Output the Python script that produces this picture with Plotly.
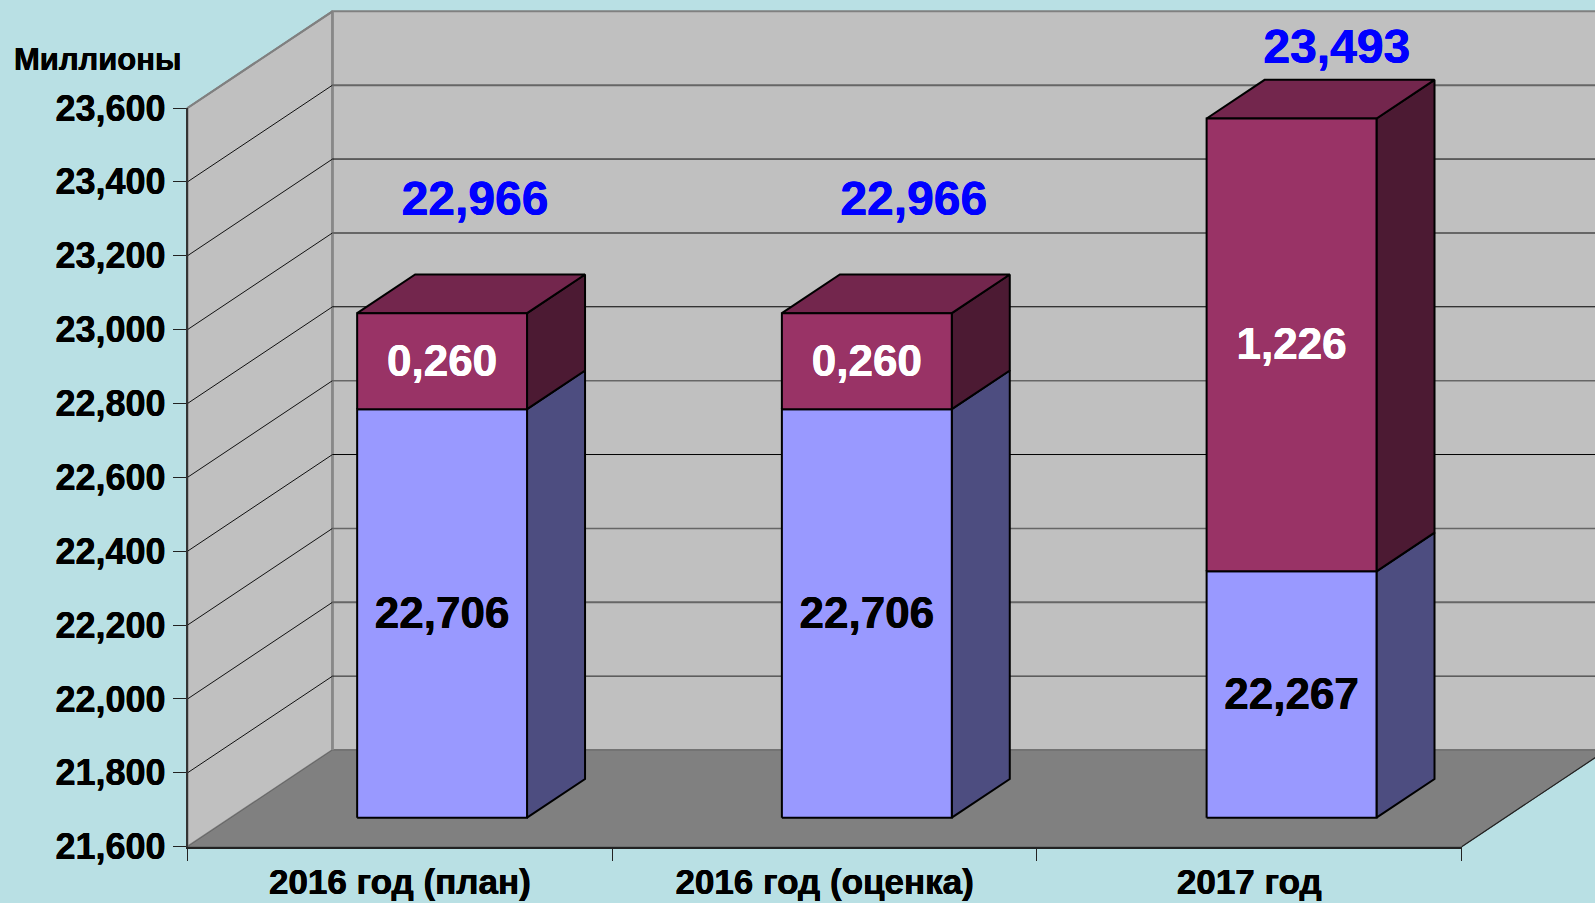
import plotly.graph_objects as go

# ---------- data ----------
categories = ["2016 год (план)", "2016 год (оценка)", "2017 год"]
base_values = [22.706, 22.706, 22.267]
added_values = [0.260, 0.260, 1.226]
totals = [22.966, 22.966, 23.493]
base_labels = ["22,706", "22,706", "22,267"]
added_labels = ["0,260", "0,260", "1,226"]
total_labels = ["22,966", "22,966", "23,493"]
y_ticks = [21.6, 21.8, 22.0, 22.2, 22.4, 22.6, 22.8, 23.0, 23.2, 23.4, 23.6]
y_tick_labels = ["21,600", "21,800", "22,000", "22,200", "22,400", "22,600",
                 "22,800", "23,000", "23,200", "23,400", "23,600"]

# ---------- geometry of the oblique view (pixels of the page) ----------
W, H = 1595, 903
X0, X1 = 187.5, 1461.7      # front plane, left and right
Y0, Y1 = 846.7, 108.0       # front plane, 21.6 and 23.6
DX, DY = 145.0, 96.7        # full depth shift
VMIN, VMAX = 21.6, 23.6
px_per_cat = (X1 - X0) / 3
px_per_val = (Y0 - Y1) / (VMAX - VMIN)
depth_x = DX / px_per_cat
depth_y = DY / px_per_val
T_FRONT, T_BACK = 0.300, 0.70
GAP_LEFT, GAP_RIGHT = 0.297, 0.303
LABEL_SHIFT = 0.009

# total label placement relative to category start / value
total_label_dx = [0.677, 0.71, 0.706]
total_label_dy = [0.377, 0.377, 0.261]

BG = "#B9E0E4"
WALL = "#C0C0C0"
FLOOR = "#808080"
BLUE, BLUE_SIDE = "#9999FF", "#4D4D80"
MAROON, MAROON_SIDE, MAROON_TOP = "#993366", "#4C1A33", "#73264D"
# back-wall gridline look, bottom to top (21.8 ... 23.4)
grid_styles = [("#222222", 1), ("#666666", 2), ("#666666", 1.5), ("#000000", 1), ("#666666", 1.5),
               ("#000000", 1), ("#666666", 2), ("#000000", 1), ("#666666", 2)]


def P(c, v, t):
    """Category position, value and depth to the main axes."""
    return c + t * depth_x, v + t * depth_y


def poly(points, fill=None, line="black", width=1):
    xs = [p[0] for p in points]
    ys = [p[1] for p in points]
    if fill:
        xs.append(xs[0])
        ys.append(ys[0])
    return go.Scatter(
        x=xs, y=ys, mode="lines", hoverinfo="skip", showlegend=False,
        fill="toself" if fill else None, fillcolor=fill,
        line=dict(color=line, width=width),
        xaxis="x", yaxis="y",
    )


fig = go.Figure()

# walls and floor
fig.add_trace(poly([P(0, VMIN, 0), P(0, VMAX, 0), P(0, VMAX, 1), P(0, VMIN, 1)], WALL, "#808080", 2))
fig.add_trace(poly([P(0, VMIN, 1), P(0, VMAX, 1), P(3, VMAX, 1), P(3, VMIN, 1)], WALL, "#808080", 2))
fig.add_trace(poly([P(0, VMIN, 0), P(0, VMIN, 1), P(3, VMIN, 1), P(3, VMIN, 0)], FLOOR, "#666666", 1))
fig.add_trace(poly([P(3, VMIN, 0), P(3, VMIN, 1)], None, "#222222", 1.2))
fig.add_trace(poly([P(0, VMIN, 1), P(0, VMAX, 1)], None, "#888888", 2.5))
fig.add_trace(poly([P(0, VMAX, 0), P(0, VMAX, 1)], None, "#808080", 2))

# gridlines
for v, (gc, gw) in zip(y_ticks[1:-1], grid_styles):
    fig.add_trace(poly([P(0, v, 0), P(0, v, 1)], None, "#111111", 1))
    fig.add_trace(poly([P(0, v, 1), P(3, v, 1)], None, gc, gw))

# bars
for i in range(len(categories)):
    c0, c1 = i + GAP_LEFT, i + 1 - GAP_RIGHT
    low = VMIN
    for value, front, side, top in (
        (base_values[i], BLUE, BLUE_SIDE, None),
        (base_values[i] + added_values[i], MAROON, MAROON_SIDE, MAROON_TOP),
    ):
        high = value
        fig.add_trace(poly([P(c1, low, T_FRONT), P(c1, low, T_BACK), P(c1, high, T_BACK), P(c1, high, T_FRONT)], side, "black", 2))
        if top:
            fig.add_trace(poly([P(c0, high, T_FRONT), P(c0, high, T_BACK), P(c1, high, T_BACK), P(c1, high, T_FRONT)], top, "black", 2))
        fig.add_trace(poly([P(c0, low, T_FRONT), P(c0, high, T_FRONT), P(c1, high, T_FRONT), P(c1, low, T_FRONT)], front, "black", 2))
        low = high

FONT = "Liberation Sans"


def bold_font(size, color):
    return dict(family=FONT, size=size, color=color, weight="bold",
                shadow=f"0.3px 0 0 {color}, -0.3px 0 0 {color}")


def texts(xs, ys, labels, color, size):
    return go.Scatter(
        x=xs, y=ys, text=labels, mode="text", textposition="middle center",
        textfont=bold_font(size, color),
        hoverinfo="skip", showlegend=False, xaxis="x", yaxis="y",
    )


mid_c = [i + 0.497 for i in range(len(categories))]
base_pts = [P(c, (VMIN + b) / 2 - LABEL_SHIFT, T_FRONT) for c, b in zip(mid_c, base_values)]
add_pts = [P(c, b + a / 2 - LABEL_SHIFT, T_FRONT) for c, b, a in zip(mid_c, base_values, added_values)]
fig.add_trace(texts([p[0] for p in base_pts], [p[1] for p in base_pts], base_labels, "black", 44))
fig.add_trace(texts([p[0] for p in add_pts], [p[1] for p in add_pts], added_labels, "white", 44))
fig.add_trace(texts([i + d for i, d in enumerate(total_label_dx)],
                    [t + d for t, d in zip(totals, total_label_dy)],
                    total_labels, "#0000FF", 48))

# front-plane axes carrying the ticks and labels
fig.add_trace(go.Scatter(x=categories, y=totals, mode="markers", marker=dict(opacity=0),
                         hoverinfo="skip", showlegend=False, xaxis="x2", yaxis="y2"))

fig.update_layout(
    width=W, height=H, autosize=False,
    margin=dict(l=0, r=0, t=0, b=0, pad=0),
    paper_bgcolor=BG, plot_bgcolor="rgba(0,0,0,0)",
    showlegend=False,
    xaxis=dict(domain=[0, 1], range=[-X0 / px_per_cat, (W - X0) / px_per_cat], visible=False, automargin=False),
    yaxis=dict(domain=[0, 1], range=[VMIN - (H - Y0) / px_per_val, VMIN + Y0 / px_per_val], visible=False, automargin=False),
    xaxis2=dict(
        domain=[X0 / W, X1 / W], anchor="y2", type="category", automargin=False,
        categoryorder="array", categoryarray=categories, range=[-0.5, 2.5],
        tickson="boundaries", ticks="outside", ticklen=12, tickwidth=1, tickcolor="#222222",
        ticklabelstandoff=3,
        showgrid=False, zeroline=False, showline=True, linecolor="#222222", linewidth=2,
        tickfont=bold_font(35, "black"),
    ),
    yaxis2=dict(
        domain=[(H - Y0) / H, (H - Y1) / H], anchor="x2", range=[VMIN, VMAX], automargin=False,
        tickvals=y_ticks, ticktext=y_tick_labels,
        ticks="outside", ticklen=13, tickwidth=1, tickcolor="#222222",
        showgrid=False, zeroline=False, showline=True, linecolor="#333333", linewidth=1.5,
        tickfont=bold_font(36, "black"),
    ),
    annotations=[dict(
        text="Миллионы", xref="paper", yref="paper", x=97.5 / W, y=1 - 59 / H,
        xanchor="center", yanchor="middle", showarrow=False,
        font=bold_font(31, "black"),
    )],
)

fig.write_html("out.html", config={"displayModeBar": False},
               post_script="document.documentElement.style.overflow='hidden';document.body.style.margin='0';")
